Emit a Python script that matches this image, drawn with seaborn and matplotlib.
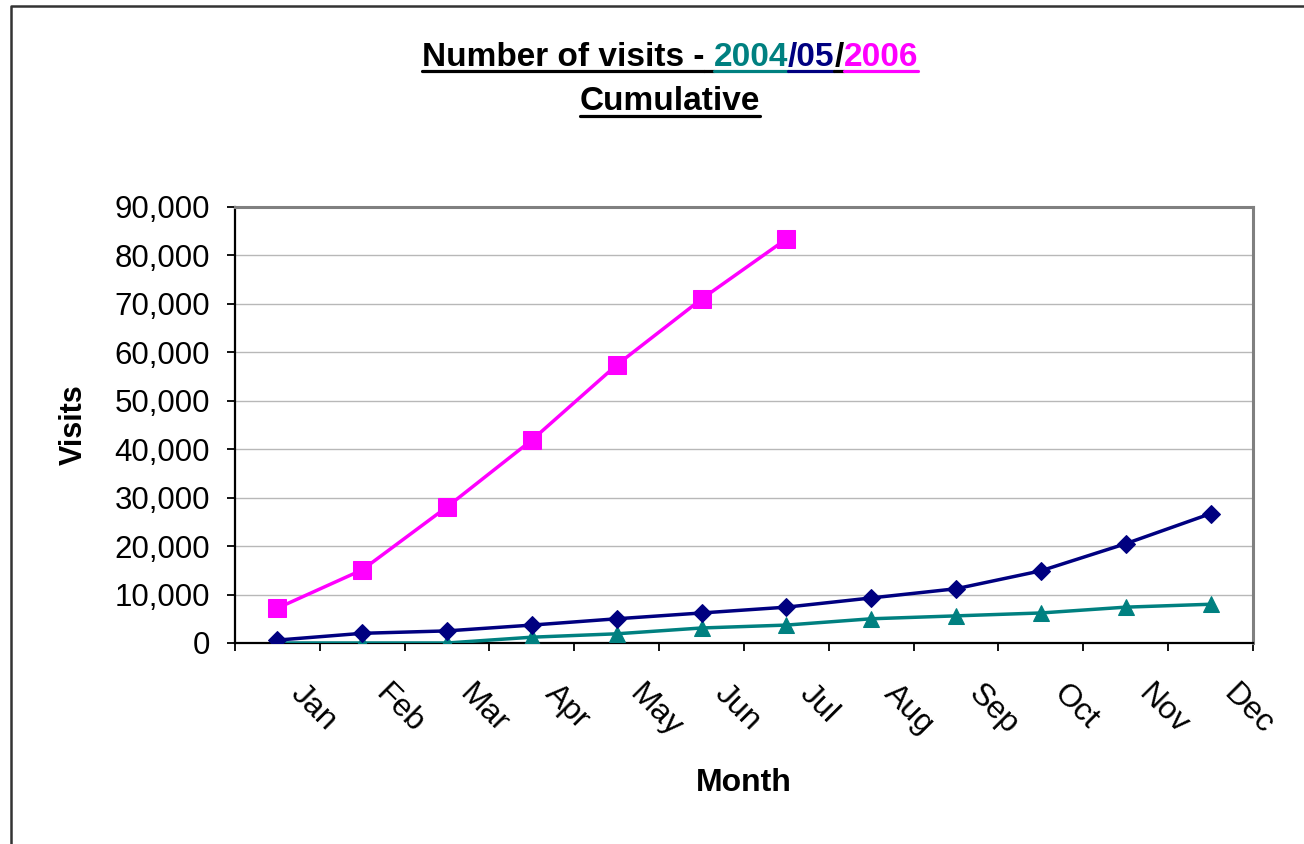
import numpy as np
import matplotlib
matplotlib.use("Agg")
import matplotlib.pyplot as plt
from matplotlib.lines import Line2D
from matplotlib.ticker import FuncFormatter
import seaborn as sns

# data
months = ["Jan", "Feb", "Mar", "Apr", "May", "Jun", "Jul", "Aug", "Sep", "Oct", "Nov", "Dec"]
visits_2004 = [0, 0, 0, 1200, 1900, 3100, 3700, 5000, 5600, 6200, 7400, 8000]
visits_2005 = [600, 2000, 2500, 3700, 5000, 6200, 7400, 9300, 11200, 14900, 20500, 26700]
visits_2006 = [7200, 15100, 28100, 41900, 57400, 71000, 83400]

teal = "#008080"
navy = "#000080"
pink = "#FF00FF"

sns.set_style("white")
plt.rcParams['font.family'] = ['Liberation Sans', 'DejaVu Sans']
plt.rcParams['text.color'] = 'black'
plt.rcParams['axes.labelcolor'] = 'black'
plt.rcParams['xtick.color'] = 'black'
plt.rcParams['ytick.color'] = 'black'

W, H = 1304, 844
fig = plt.figure(figsize=(W / 100, H / 100), dpi=100)
ax = fig.add_axes([235 / W, 1 - 643 / H, (1253 - 235) / W, (643 - 207) / H])

pos = np.arange(len(months))
series = [(visits_2004, teal, "^", 11),
          (visits_2005, navy, "D", 9),
          (visits_2006, pink, "s", 13)]
for vals, col, mk, ms in series:
    sns.lineplot(x=pos[:len(vals)], y=vals, color=col, marker=mk, markersize=ms,
                 markeredgecolor=col, linewidth=2.5, ax=ax, zorder=3)

ax.set_xlim(-0.5, 11.5)
ax.set_ylim(0, 90000)
ax.set_yticks(np.arange(0, 90001, 10000))
ax.yaxis.set_major_formatter(FuncFormatter(lambda v, p: f"{int(v):,}"))
ax.grid(axis="y", color="#b8b8b8", linewidth=1)
ax.set_axisbelow(True)

# tick marks between months, labels just right of month centres
ax.set_xticks(np.arange(-0.5, 12, 1))
ax.set_xticklabels([])
ax.set_xticks(pos + 0.33, minor=True)
ax.set_xticklabels(months, minor=True)
ax.tick_params(axis="x", which="major", direction="out", length=6, width=1.3, color="black", bottom=True)
ax.tick_params(axis="x", which="minor", length=0, pad=26, labelsize=23)
ax.tick_params(axis="y", direction="out", length=6, width=1.3, color="black", left=True, pad=12, labelsize=22.5)
for lab in ax.get_xticklabels(minor=True):
    lab.set_rotation(-45)
    lab.set_ha("left")
    lab.set_va("top")
    lab.set_rotation_mode("anchor")

for s in ["top", "right"]:
    ax.spines[s].set_color("#808080")
    ax.spines[s].set_linewidth(2.2)
for s in ["left", "bottom"]:
    ax.spines[s].set_color("black")
    ax.spines[s].set_linewidth(1.6)

ax.set_xlabel("Month", fontsize=23, fontweight="bold")
ax.xaxis.set_label_coords(0.5, (643 - 768) / 436)
ax.set_ylabel("Visits", fontsize=22, fontweight="bold")
ax.yaxis.set_label_coords((89 - 235) / 1018, 0.5)

# title, coloured pieces with underline
fig.canvas.draw()
r = fig.canvas.get_renderer()
pieces = [("Number of visits -", "black"), (" ", "black"), ("2004", teal), ("/05", navy), ("/", "black"), ("2006", pink)]

def width_of(s):
    t = fig.text(0, 0, s, fontsize=24, fontweight="bold")
    w = t.get_window_extent(r).width
    t.remove()
    return w

space_w = width_of("a a") - width_of("aa")
widths = [space_w if s == " " else width_of(s) for s, c in pieces]
cx = 670
x = cx - sum(widths) / 2
for (s, c), w in zip(pieces, widths):
    if s != " ":
        fig.text(x / W, 1 - 66 / H, s, color=c, fontsize=24, fontweight="bold", ha="left", va="baseline")
    fig.add_artist(Line2D([x / W, (x + w) / W], [1 - 71 / H, 1 - 71 / H], color=c, lw=2.3,
                          transform=fig.transFigure))
    x += w

cw = width_of("Cumulative")
fig.text(cx / W, 1 - 110 / H, "Cumulative", color="black", fontsize=24, fontweight="bold", ha="center", va="baseline")
fig.add_artist(Line2D([(cx - cw / 2) / W, (cx + cw / 2) / W], [1 - 116 / H, 1 - 116 / H], color="black", lw=2.3,
                      transform=fig.transFigure))

# outer chart frame (only left and top visible)
fig.add_artist(Line2D([11 / W, 11 / W, 1], [0, 1 - 6 / H, 1 - 6 / H], color="#333333", lw=1.8,
                      transform=fig.transFigure))

fig.savefig("out.png", dpi=100)
